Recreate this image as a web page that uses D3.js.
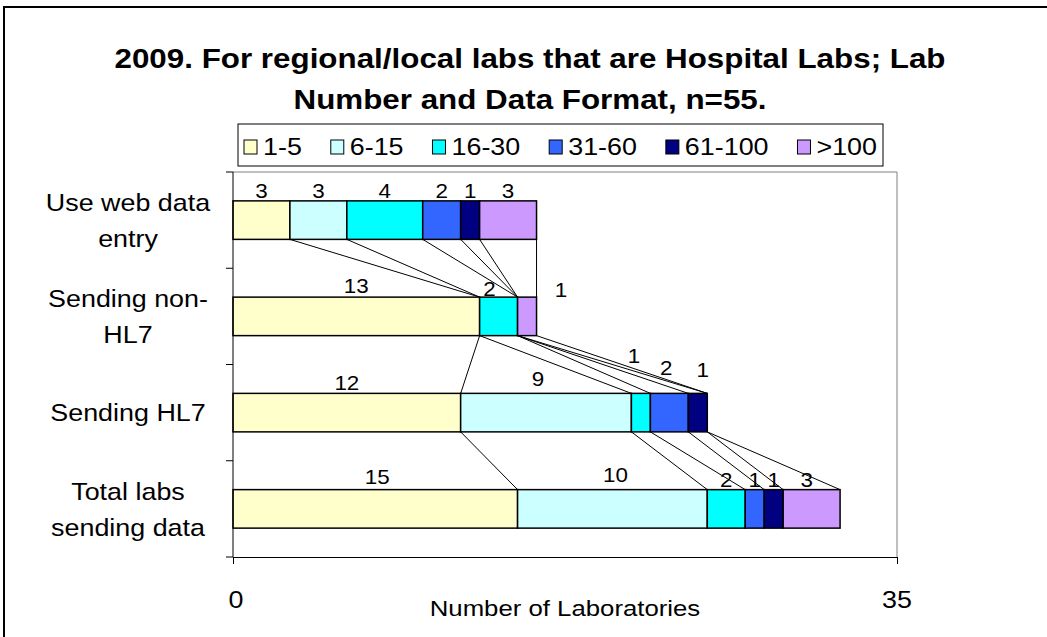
<!DOCTYPE html>
<html>
<head>
<meta charset="utf-8">
<script src="https://cdn.jsdelivr.net/npm/d3@7"></script>
<style>
  body { margin: 0; background: #fff; }
  text { font-family: "Liberation Sans", Arial, sans-serif; fill: #000; }
</style>
</head>
<body>
<svg id="chart" width="1047" height="637"></svg>
<script>
// chart data
const categories = ["Use web data entry", "Sending non-HL7", "Sending HL7", "Total labs sending data"];
const categoryLines = [["Use web data", "entry"], ["Sending non-", "HL7"], ["Sending HL7"], ["Total labs", "sending data"]];
const seriesNames = ["1-5", "6-15", "16-30", "31-60", "61-100", ">100"];
const labs1to5 = [3, 13, 12, 15];
const labs6to15 = [3, 0, 9, 10];
const labs16to30 = [4, 2, 1, 2];
const labs31to60 = [2, 0, 2, 1];
const labs61to100 = [1, 0, 1, 1];
const labsOver100 = [3, 1, 0, 3];
const xTicks = [0, 35];
const titleLines = ["2009. For regional/local labs that are Hospital Labs; Lab", "Number and Data Format, n=55."];
const xTitle = "Number of Laboratories";

const colors = ["#FFFFCC", "#CCFFFF", "#00FFFF", "#3366FF", "#000080", "#CC99FF"];

// manual label nudges (dx, dy) as they were moved in the original
const labelNudge = {
  "1|1-5": [0, -1], "1|16-30": [-9, 2], "1|>100": [34, 3],
  "2|6-15": [-8, -4], "2|16-30": [-7, -27], "2|31-60": [-3, -15], "2|61-100": [5, -13],
  "3|1-5": [2, -3], "3|6-15": [3, -5], "3|>100": [-5, 0]
};

const SX = 1.12; // text in the original is stretched horizontally

const svg = d3.select("#chart");

// table for the stack
const seriesValues = [labs1to5, labs6to15, labs16to30, labs31to60, labs61to100, labsOver100];
const table = categories.map((c, i) => {
  const row = { category: c, index: i };
  seriesNames.forEach((s, j) => row[s] = seriesValues[j][i]);
  return row;
});
const stacked = d3.stack().keys(seriesNames)(table);

const x = d3.scaleLinear().domain([0, 35]).range([233, 897]);
const y = d3.scaleBand().domain(categories).range([172, 557])
  .paddingInner(0.6).paddingOuter(0.3);

function stretched(sel, px, py) {
  return sel.attr("transform", `translate(${px},${py}) scale(${SX},1)`);
}

// outer frame
svg.append("rect")
  .attr("x", 4).attr("y", 7).attr("width", 1100).attr("height", 700)
  .attr("fill", "none").attr("stroke", "#000").attr("stroke-width", 2);

// title
titleLines.forEach((t, i) => {
  stretched(svg.append("text"), 530, 68 + i * 41)
    .attr("text-anchor", "middle")
    .attr("font-size", 28)
    .attr("font-weight", "bold")
    .text(t);
});

// plot area border (top and right in grey)
svg.append("path")
  .attr("d", `M${x(0)},${y.range()[0]}H${x(35)}V${y.range()[1]}`)
  .attr("fill", "none").attr("stroke", "#808080").attr("stroke-width", 1);

// series lines between bars
const lineG = svg.append("g").attr("stroke", "#000").attr("stroke-width", 1);
stacked.forEach(layer => {
  for (let i = 0; i < categories.length - 1; i++) {
    lineG.append("line")
      .attr("x1", x(layer[i][1]))
      .attr("y1", y(categories[i]) + y.bandwidth())
      .attr("x2", x(layer[i + 1][1]))
      .attr("y2", y(categories[i + 1]));
  }
});

// bars
svg.append("g").selectAll("g")
  .data(stacked)
  .join("g")
    .attr("fill", (d, i) => colors[i])
  .selectAll("rect")
  .data(d => d.filter(p => p[1] > p[0]))
  .join("rect")
    .attr("x", d => x(d[0]))
    .attr("y", d => y(d.data.category))
    .attr("width", d => x(d[1]) - x(d[0]))
    .attr("height", y.bandwidth())
    .attr("stroke", "#000")
    .attr("stroke-width", 1.5);

// data labels
stacked.forEach(layer => {
  layer.forEach(d => {
    const v = d[1] - d[0];
    if (v === 0) return;
    const nudge = labelNudge[d.data.index + "|" + layer.key] || [0, 0];
    stretched(svg.append("text"),
        x((d[0] + d[1]) / 2) + nudge[0],
        y(d.data.category) - 3 + nudge[1])
      .attr("text-anchor", "middle")
      .attr("font-size", 20)
      .text(v);
  });
});

// y axis with ticks on category boundaries
svg.append("line")
  .attr("x1", x(0)).attr("x2", x(0))
  .attr("y1", y.range()[0]).attr("y2", y.range()[1])
  .attr("stroke", "#000");
d3.range(categories.length + 1).forEach(i => {
  const ty = y.range()[0] + i * y.step();
  svg.append("line")
    .attr("x1", x(0) - 7).attr("x2", x(0))
    .attr("y1", ty).attr("y2", ty)
    .attr("stroke", "#000");
});

// category labels
categories.forEach((c, i) => {
  const lines = categoryLines[i];
  const mid = y(c) + y.bandwidth() / 2;
  const first = lines.length === 1 ? mid + 8.5 : mid - 9;
  lines.forEach((ln, k) => {
    stretched(svg.append("text"), 128, first + k * 36)
      .attr("text-anchor", "middle")
      .attr("font-size", 24)
      .text(ln);
  });
});

// x axis
const xAxis = svg.append("g")
  .attr("transform", `translate(0,${y.range()[1]})`)
  .call(d3.axisBottom(x).tickValues(xTicks).tickSize(7).tickFormat("").tickSizeOuter(0));
xAxis.select(".domain").attr("stroke", "#000");
xAxis.selectAll(".tick line").attr("stroke", "#000");

xTicks.forEach(t => {
  stretched(svg.append("text"), x(t) + (t === 0 ? 3 : 0), 608)
    .attr("text-anchor", "middle")
    .attr("font-size", 24)
    .text(t);
});

stretched(svg.append("text"), (x(0) + x(35)) / 2, 616)
  .attr("text-anchor", "middle")
  .attr("font-size", 23)
  .text(xTitle);

// legend
const legend = svg.append("g");
legend.append("rect")
  .attr("x", 238).attr("y", 124).attr("width", 645).attr("height", 42)
  .attr("fill", "#fff").attr("stroke", "#000").attr("stroke-width", 1);

const items = seriesNames.map((s, i) => {
  const g = legend.append("g");
  g.append("rect")
    .attr("y", 140).attr("width", 13).attr("height", 14)
    .attr("fill", colors[i]).attr("stroke", "#000");
  const t = stretched(g.append("text"), 0, 155).attr("font-size", 24).text(s);
  return { g, t, w: t.node().getComputedTextLength() * SX };
});
const boxPad = 6, swatch = 13, swGap = 6;
const textTotal = d3.sum(items, d => d.w + swatch + swGap);
const gap = (645 - 2 * boxPad - textTotal) / (items.length - 1);
let cx = 238 + boxPad;
items.forEach(it => {
  it.g.select("rect").attr("x", cx);
  it.t.attr("transform", `translate(${cx + swatch + swGap},155) scale(${SX},1)`);
  cx += swatch + swGap + it.w + gap;
});
</script>
</body>
</html>
